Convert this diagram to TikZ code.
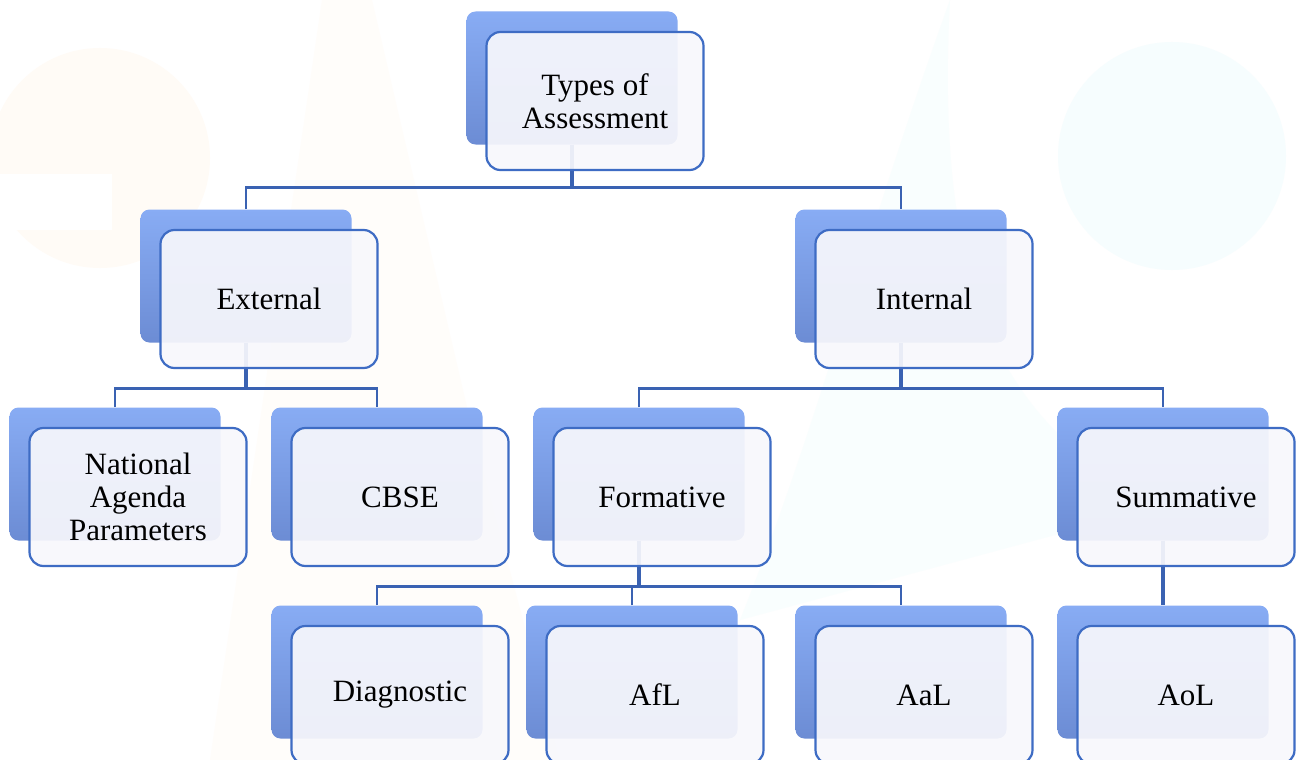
\documentclass[tikz,border=0pt]{standalone}
\usepackage{fontspec}
\setmainfont{Liberation Serif}
\usetikzlibrary{calc}
\usetikzlibrary{backgrounds}
\definecolor{linkblue}{RGB}{58,98,178}
\definecolor{edgeblue}{RGB}{62,108,196}
\definecolor{backlight}{RGB}{136,172,244}
\definecolor{backdark}{RGB}{108,140,212}
\definecolor{frontfill}{RGB}{248,248,252}
\definecolor{peach}{RGB}{255,251,246}
\definecolor{mint}{RGB}{246,253,254}
\tikzstyle{backbox}=[rounded corners=9pt,minimum width=211pt,minimum height=133pt,top color=backlight,bottom color=backdark]
\tikzstyle{frontbox}=[rounded corners=14pt,minimum width=217pt,minimum height=138pt,draw=edgeblue,line width=2.2pt,fill=frontfill,fill opacity=0.92,text opacity=1,align=center,font=\fontsize{31}{33}\selectfont]
\tikzstyle{link}=[draw=linkblue,line width=2.6pt]
\tikzstyle{stem}=[draw=linkblue,line width=3.4pt]
\pgfdeclarelayer{paper}
\pgfsetlayers{paper,background,main}

% blue card behind, pale card in front
\newcommand{\assbox}[4]{%
  \node[backbox] (#1b) at (#2,#3) {};
  \node[frontbox] (#1) at ($(#1b)+(23,23)$) {#4};}

\begin{document}
\begin{tikzpicture}[x=1pt,y=-1pt]
  \useasboundingbox (0,0) rectangle (1296,760);

  \begin{pgfonlayer}{paper}
    \fill[white] (0,0) rectangle (1296,760);
    \fill[peach] (100,158) circle (110);
    \fill[white] (0,174) rectangle (112,230);
    \fill[peach!60] (322,0) -- (372,0) -- (470,420) -- (560,760) -- (210,760) -- cycle;
    \fill[mint] (1172,156) circle (114);
    \fill[mint!70] (950,0) .. controls (860,250) and (820,420) .. (740,620) -- (1296,470) -- (1296,560) .. controls (1050,480) and (930,380) .. (950,0);
  \end{pgfonlayer}

  \assbox{root}{572}{78}{Types of\\Assessment}
  \assbox{ext}{246}{276}{External}
  \assbox{int}{901}{276}{Internal}
  \assbox{nap}{115}{474}{National\\Agenda\\Parameters}
  \assbox{cbse}{377}{474}{CBSE}
  \assbox{form}{639}{474}{Formative}
  \assbox{sum}{1163}{474}{Summative}
  \assbox{diag}{377}{672}{Diagnostic}
  \assbox{afl}{632}{672}{AfL}
  \assbox{aal}{901}{672}{AaL}
  \assbox{aol}{1163}{672}{AoL}

  \begin{pgfonlayer}{background}
    \draw[stem] (rootb.south) -- ++(0,43) coordinate (rootbus);
    \draw[link] (extb.north) |- (rootbus) -| (intb.north);

    \draw[stem] (extb.south) -- ++(0,46) coordinate (extbus);
    \draw[link] (napb.north) |- (extbus) -| (cbseb.north);

    \draw[stem] (intb.south) -- ++(0,46) coordinate (intbus);
    \draw[link] (formb.north) |- (intbus) -| (sumb.north);

    \draw[stem] (formb.south) -- ++(0,46) coordinate (formbus);
    \draw[link] (diagb.north) |- (formbus) -| (aalb.north);
    \draw[link] (aflb.north) -- (aflb.north |- formbus);

    \draw[stem] (sumb.south) -- (aolb.north);
  \end{pgfonlayer}
\end{tikzpicture}
\end{document}
